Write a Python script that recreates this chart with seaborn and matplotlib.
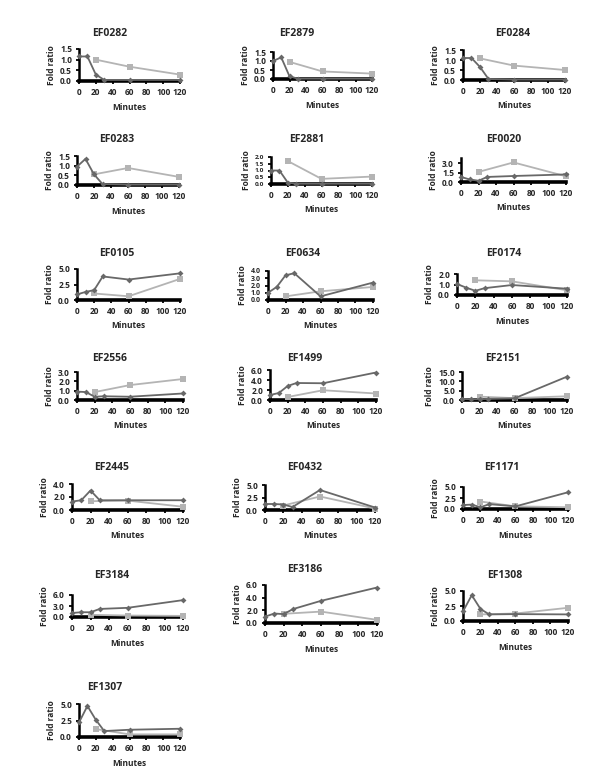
import numpy as np
import pandas as pd
import matplotlib.pyplot as plt
import seaborn as sns

# gene panels, in reading order
genes = ["EF0282", "EF2879", "EF0284",
         "EF0283", "EF2881", "EF0020",
         "EF0105", "EF0634", "EF0174",
         "EF2556", "EF1499", "EF2151",
         "EF2445", "EF0432", "EF1171",
         "EF3184", "EF3186", "EF1308",
         "EF1307"]

dark_minutes = [0, 10, 20, 30, 60, 120]
light_minutes = [20, 60, 120]

# fold ratio, dark series (diamonds)
dark_ratio = [
    [1.15, 1.15, 0.30, 0.05, 0.05, 0.05],
    [1.00, 1.20, 0.15, 0.02, 0.02, 0.02],
    [1.10, 1.10, 0.65, 0.05, 0.02, 0.02],
    [0.95, 1.35, 0.55, 0.05, 0.02, 0.02],
    [1.00, 1.00, 0.10, 0.02, 0.02, 0.02],
    [0.80, 0.40, 0.20, 0.80, 0.95, 1.20],
    [0.90, 1.30, 1.60, 3.80, 3.30, 4.30],
    [1.00, 1.80, 3.40, 3.70, 0.50, 2.40],
    [1.05, 0.70, 0.40, 0.65, 0.95, 0.60],
    [0.90, 0.85, 0.35, 0.40, 0.35, 0.70],
    [1.00, 1.40, 2.80, 3.40, 3.35, 5.50],
    [0.60, 0.40, 0.40, 0.60, 0.90, 12.5],
    [1.30, 1.50, 3.00, 1.50, 1.50, 1.50],
    [1.20, 1.20, 1.10, 0.60, 4.00, 0.50],
    [0.90, 1.00, 0.40, 1.10, 0.60, 3.80],
    [1.10, 1.30, 1.30, 2.20, 2.50, 4.60],
    [1.00, 1.50, 1.40, 2.20, 3.50, 5.60],
    [1.60, 4.30, 2.00, 1.10, 1.15, 1.10],
    [2.20, 4.70, 2.60, 0.90, 1.10, 1.25],
]

# fold ratio, light series (squares)
light_ratio = [
    [1.00, 0.67, 0.30],
    [0.95, 0.42, 0.30],
    [1.08, 0.72, 0.50],
    [0.55, 0.88, 0.42],
    [1.70, 0.38, 0.55],
    [1.60, 3.10, 0.90],
    [1.05, 0.60, 3.40],
    [0.50, 1.20, 1.80],
    [1.40, 1.30, 0.45],
    [0.85, 1.60, 2.25],
    [0.60, 1.95, 1.30],
    [1.80, 1.00, 2.00],
    [1.35, 1.45, 0.50],
    [0.90, 2.70, 0.30],
    [1.70, 0.60, 0.40],
    [0.60, 0.40, 0.30],
    [1.45, 1.80, 0.50],
    [1.10, 1.25, 2.20],
    [1.20, 0.40, 0.40],
]

# y tick labels: top tick and step
y_top = [1.5, 1.5, 1.5, 1.5, 2.0, 3.0, 5.0, 4.0, 2.0, 3.0, 6.0, 15.0,
         4.0, 5.0, 5.0, 6.0, 6.0, 5.0, 5.0]
y_step = [0.5, 0.5, 0.5, 0.5, 0.5, 1.5, 2.5, 1.0, 1.0, 1.0, 2.0, 5.0,
          2.0, 2.5, 2.5, 3.0, 2.0, 2.5, 2.5]

# --- layout (pixels): axes box (left, top, right, bottom), title centre ---
W, H = 600, 775
boxes = [
    (79, 49, 180, 81), (273, 52, 372, 79), (463, 50, 565, 80),
    (77, 156, 179, 185), (271, 157, 372, 184), (461, 158, 566, 182),
    (77, 269, 180, 300), (268, 271, 373, 300), (457, 274, 567, 295),
    (77, 372, 183, 400), (270, 370, 376, 400), (462, 372, 567, 400),
    (72, 484, 183, 510), (265, 485, 375, 510), (463, 487, 568, 509),
    (72, 595, 183, 617), (265, 585, 377, 623), (463, 591, 568, 621),
    (79, 704, 180, 737),
]
titles_xy = [
    (110, 33), (297, 33), (513, 33),
    (117, 139), (307, 139), (504, 139),
    (117, 254), (303, 254), (504, 254),
    (110, 359), (305, 359), (503, 359),
    (112, 468), (305, 468), (502, 468),
    (112, 576), (305, 569), (505, 576),
    (105, 687),
]
y_lim_extra = {"EF0020": 3.8}

DARK = "#686868"
LIGHT = "#b4b4b4"

sns.set_style("ticks")
plt.rcParams['font.family'] = ['Open Sans', 'DejaVu Sans']

fig = plt.figure(figsize=(W / 100, H / 100), dpi=100)

for i, gene in enumerate(genes):
    l, t, r, b = boxes[i]
    ax = fig.add_axes([l / W, 1 - b / H, (r - l) / W, (b - t) / H])

    dark = pd.DataFrame({"Minutes": dark_minutes, "Fold ratio": dark_ratio[i]})
    light = pd.DataFrame({"Minutes": light_minutes, "Fold ratio": light_ratio[i]})
    sns.lineplot(data=dark, x="Minutes", y="Fold ratio", ax=ax, color=DARK,
                 marker="D", markersize=3, markeredgewidth=0, linewidth=1.3,
                 clip_on=False, zorder=3)
    sns.lineplot(data=light, x="Minutes", y="Fold ratio", ax=ax, color=LIGHT,
                 marker="s", markersize=4.2, markeredgewidth=0, linewidth=1.3,
                 clip_on=False, zorder=2)

    ymax = y_lim_extra.get(gene, y_top[i])
    ax.set_xlim(0, 120)
    ax.set_ylim(0, ymax)
    ax.set_xticks(range(0, 121, 20))
    ax.set_yticks(np.arange(0, y_top[i] + 1e-6, y_step[i]))
    ax.yaxis.set_major_formatter("{x:.1f}")

    sns.despine(ax=ax)
    ax.spines["left"].set_linewidth(1.8)
    ax.spines["bottom"].set_linewidth(2.6)
    for s in ("left", "bottom"):
        ax.spines[s].set_color("black")
        ax.spines[s].set_zorder(1)
    ax.tick_params(length=2.5, width=1.3, labelsize=6, pad=2.5, color="black")
    # shrink crowded y tick labels so they do not run into each other
    gap_px = (b - t) * y_step[i] / ymax
    ax.tick_params(axis="y", labelsize=min(6, gap_px / 1.45))
    for lab in ax.get_xticklabels() + ax.get_yticklabels():
        lab.set_fontweight("bold")

    ax.set_xlabel("Minutes", fontsize=6, fontweight="bold", labelpad=4)
    ax.set_ylabel("Fold ratio", fontsize=6, fontweight="bold", labelpad=3)

    tx, ty = titles_xy[i]
    fig.text(tx / W, 1 - ty / H, gene, ha="center", va="center",
             fontsize=7.5, fontweight="bold")

fig.savefig("out.png", dpi=100)
